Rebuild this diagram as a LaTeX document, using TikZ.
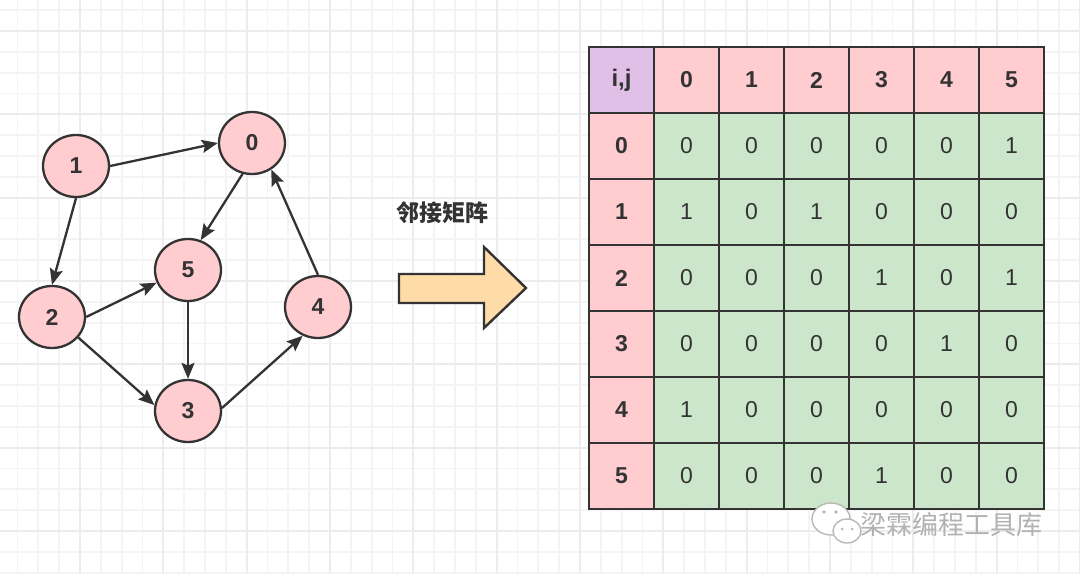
\documentclass[tikz,border=0pt]{standalone}
\usepackage{fontspec}
\setmainfont{Liberation Sans}
\newfontfamily\cjk{Noto Sans CJK SC}
\usetikzlibrary{shapes.geometric,arrows.meta}
\definecolor{ink}{HTML}{333333}
\definecolor{nodepink}{RGB}{255,204,207}
\definecolor{cellgreen}{RGB}{203,230,203}
\definecolor{cornerpurple}{RGB}{225,192,232}
\definecolor{arrowfill}{RGB}{255,219,168}
\definecolor{gridminor}{HTML}{F4F4F4}
\definecolor{gridmajor}{HTML}{ECECEC}

\begin{document}
\begin{tikzpicture}[
  x=0.5pt,y=-0.5pt,
  >={Stealth[length=8pt,width=6.5pt,inset=1.4pt]},
  vertex/.style={ellipse,draw=ink,line width=1.15pt,fill=nodepink,minimum width=33pt,
    minimum height=31pt,inner sep=0pt,text=ink,font=\bfseries\fontsize{11.5}{13}\selectfont},
  link/.style={->,line width=1.15pt,draw=ink},
  cell/.style={draw=ink,line width=1.3pt,minimum width=32.5pt,minimum height=33pt,
    inner sep=0pt,text=ink,font=\fontsize{11.5}{13}\selectfont},
  head/.style={cell,fill=nodepink,font=\bfseries\fontsize{11.5}{13}\selectfont},
  entry/.style={cell,fill=cellgreen}
]
  % Paper background with grid.
  \fill[white] (0,0) rectangle (1080,573);
  \useasboundingbox (0,0) rectangle (1080,573);
  \foreach \k in {0,...,52}
    \draw[gridminor,line width=0.9pt] ({-3.33+20.833*\k},0) -- ({-3.33+20.833*\k},573);
  \foreach \k in {0,...,30}
    \draw[gridminor,line width=0.9pt] (0,{-52.33+20.833*\k}) -- (1080,{-52.33+20.833*\k});
  \foreach \k in {0,4,...,52}
    \draw[gridmajor,line width=1.1pt] ({-3.33+20.833*\k},0) -- ({-3.33+20.833*\k},573);
  \foreach \k in {0,4,...,28}
    \draw[gridmajor,line width=1.1pt] (0,{-52.33+20.833*\k}) -- (1080,{-52.33+20.833*\k});

  % Directed graph.
  \node[vertex] (n0) at (252,143) {0};
  \node[vertex] (n1) at (76,166) {1};
  \node[vertex] (n2) at (52,317) {2};
  \node[vertex] (n3) at (188,411) {3};
  \node[vertex] (n4) at (318,307) {4};
  \node[vertex] (n5) at (188,270) {5};
  \draw[link] (n1.east) -- (n0.west);
  \draw[link] (n1.south) -- (n2.north);
  \draw[link] (n0.-107) -- (n5.67);
  \draw[link] (n2.east) -- (n5.-158);
  \draw[link] (n2.-38) -- (n3.170);
  \draw[link] (n5.south) -- (n3.north);
  \draw[link] (n3.5) -- (n4.-118);
  \draw[link] (n4.north) -- (n0.-54);

  % Conversion arrow.
  \node[text=ink,font=\cjk\bfseries\fontsize{11.5}{13}\selectfont] (title) at (442,213) {邻接矩阵};
  \draw[ink,line width=1.2pt,fill=arrowfill,line join=miter]
    (399,274) -- (484,274) -- (484,247) -- (526,288) -- (484,328) -- (484,303) -- (399,303) -- cycle;

  % Adjacency matrix.
  \node[cell,fill=cornerpurple,font=\bfseries\fontsize{12}{13}\selectfont] (m-h-h) at (621.5,80) {i,j};
  \foreach \ci in {0,...,5}
    \node[head] (m-h-\ci) at ({686.5+65*\ci},80) {\ci};
  \foreach \ri in {0,...,5}
    \node[head] (m-\ri-h) at (621.5,{146+66*\ri}) {\ri};
  \foreach \ri/\vals in {0/{0,0,0,0,0,1},1/{1,0,1,0,0,0},2/{0,0,0,1,0,1},
                         3/{0,0,0,0,1,0},4/{1,0,0,0,0,0},5/{0,0,0,1,0,0}}
    \foreach \v [count=\ci from 0] in \vals
      \node[entry] (m-\ri-\ci) at ({686.5+65*\ci},{146+66*\ri}) {\v};

  % Watermark.
  \draw[gray!55,fill=white,line width=0.7pt] (831,519) ellipse [x radius=19,y radius=16];
  \draw[gray!55,fill=white,line width=0.7pt] (847,531) ellipse [x radius=14,y radius=12];
  \fill[gray!55] (824,512) circle (1.8) (836,512) circle (1.8) (842,529) circle (1.5) (852,529) circle (1.5);
  \node[text=gray!60,font=\cjk\fontsize{13}{15}\selectfont] (mark) at (951,525) {梁霖编程工具库};
\end{tikzpicture}
\end{document}
